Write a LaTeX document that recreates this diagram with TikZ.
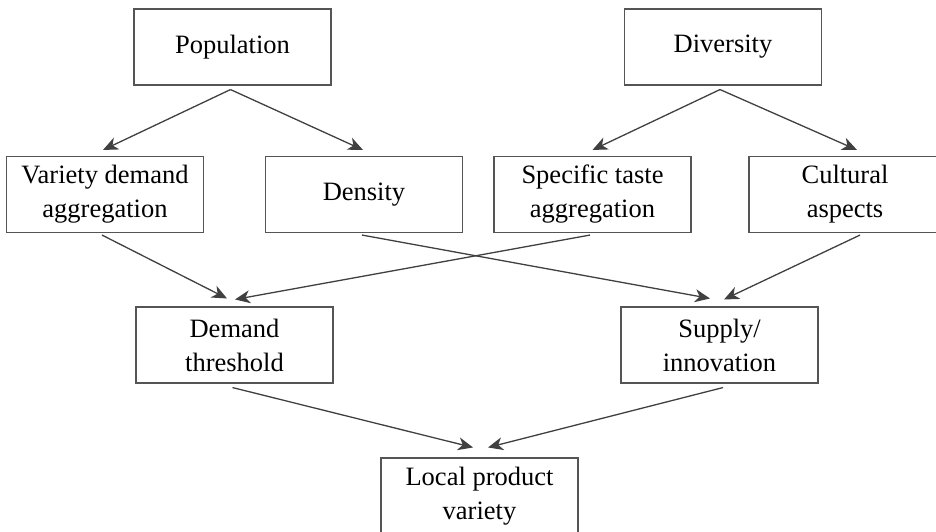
\documentclass[tikz,border=0pt]{standalone}
\usepackage{fontspec}
\setmainfont{Liberation Serif}
\usetikzlibrary{arrows.meta,calc}
\definecolor{boxgray}{HTML}{555555}
\definecolor{linegray}{HTML}{404040}
\begin{document}
\begin{tikzpicture}[x=1pt,y=1pt,
  box/.style={draw=boxgray, line width=1.1pt, minimum width=197pt, minimum height=76pt,
    inner sep=0pt, align=center, font=\fontsize{26.5}{34}\selectfont},
  arr/.style={draw=linegray, line width=1.3pt, -{Stealth[length=15pt,width=13pt,inset=4.5pt]}}]
\useasboundingbox (0,0) rectangle (936,-531);
\node[box] (pop) at (232.5,-47) {Population};
\node[box] (div) at (723,-47) {Diversity};
\node[box] (var) at (105,-194.5) {Variety demand\\aggregation};
\node[box] (den) at (364,-194.5) {Density};
\node[box] (spe) at (592.5,-194.5) {Specific taste\\aggregation};
\node[box, minimum width=192pt] (cul) at (845,-194.5) {Cultural\\aspects};
\node[box] (dem) at (234.5,-345) {Demand\\threshold};
\node[box] (sup) at (719.5,-345) {Supply/\\innovation};
\node[box] (loc) at (479.5,-496) {Local product\\variety};
% top fan-outs
\draw[arr] ([xshift=-2pt,yshift=-4pt]pop.south) -- ([xshift=-2pt,yshift=6pt]var.north);
\draw[arr] ([xshift=-2pt,yshift=-4pt]pop.south) -- ([xshift=-1pt,yshift=6pt]den.north);
\draw[arr] ([xshift=-3pt,yshift=-4pt]div.south) -- ([xshift=0pt,yshift=6pt]spe.north);
\draw[arr] ([xshift=-3pt,yshift=-4pt]div.south) -- ([xshift=12pt,yshift=6pt]cul.north);
% middle
\draw[arr] ([xshift=-3pt,yshift=-2pt]var.south) -- ([xshift=-7.5pt,yshift=8pt]dem.north);
\draw[arr] ([xshift=-2pt,yshift=-2pt]den.south) -- ([xshift=-9.5pt,yshift=8pt]sup.north);
\draw[arr] ([xshift=-2.5pt,yshift=-2pt]spe.south) -- ([xshift=0.5pt,yshift=7pt]dem.north);
\draw[arr] ([xshift=15pt,yshift=-2pt]cul.south) -- ([xshift=4.5pt,yshift=7pt]sup.north);
% bottom
\draw[arr] ([xshift=-2pt,yshift=-4pt]dem.south) -- ([xshift=-6.5pt,yshift=10pt]loc.north);
\draw[arr] ([xshift=3.5pt,yshift=-4pt]sup.south) -- ([xshift=8.5pt,yshift=10pt]loc.north);
\end{tikzpicture}
\end{document}
